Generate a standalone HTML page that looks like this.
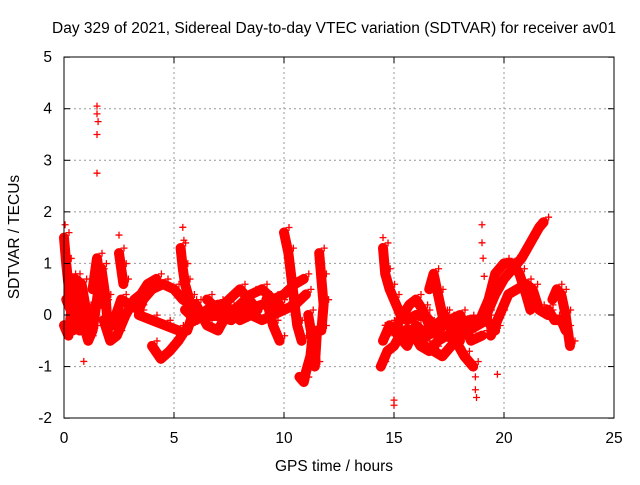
<!DOCTYPE html>
<html><head><meta charset="utf-8"><style>
body{margin:0;background:#fff}
svg text{font-family:"Liberation Sans",sans-serif;font-size:15.5px;fill:#000}
</style></head><body>
<svg id="chart" width="640" height="480" xmlns="http://www.w3.org/2000/svg">
<rect width="640" height="480" fill="#fff"/>
<text x="334" y="33" text-anchor="middle">Day 329 of 2021, Sidereal Day-to-day VTEC variation (SDTVAR) for receiver av01</text>
<text x="334" y="471" text-anchor="middle">GPS time / hours</text>
<text transform="translate(19,237) rotate(-90)" text-anchor="middle">SDTVAR / TECUs</text>
<g id="grid"></g>
<g id="data"></g>
<rect x="64" y="57" width="550" height="361" fill="none" stroke="#000"/>
<g id="ticks"></g>
</svg>
<script>
const xTicks=[0,5,10,15,20,25];
const yTicks=[-2,-1,0,1,2,3,4,5];
const tracks=[
[[0,1.5],[0.1,1.0],[0.2,0.6],[0.3,0.2],[0.4,-0.3]],
[[0,-0.2],[0.2,-0.4],[0.5,0.7],[0.8,0.6],[1.0,0.1],[1.2,-0.3]],
[[0.3,0.7],[0.6,0.5],[0.9,-0.2],[1.1,-0.5],[1.3,-0.3],[1.5,0.3],[1.7,0.9],[1.9,0.3],[2.0,-0.3]],
[[0.1,0.3],[0.4,0.0],[0.7,-0.3],[1.0,-0.1]],
[[1.3,0.5],[1.5,1.1],[1.6,0.8],[1.8,0.2]],
[[1.8,-0.1],[2.1,-0.5],[2.4,-0.4],[2.8,0.0],[3.2,0.3],[3.5,0.4],[3.8,0.6],[4.2,0.7]],
[[2.2,-0.2],[2.6,0.3],[3.0,0.2],[3.4,0.1],[3.6,0.3],[4.0,0.5],[4.5,0.6],[5.0,0.5],[5.4,0.3],[5.8,0.2]],
[[3.4,0.0],[4.0,-0.1],[4.6,-0.2],[5.2,-0.3]],
[[4.0,-0.6],[4.4,-0.85],[4.8,-0.7],[5.2,-0.5],[5.5,-0.3]],
[[2.5,1.2],[2.6,0.9],[2.7,0.6]],
[[5.3,1.3],[5.4,0.9],[5.5,0.6],[5.7,0.3]],
[[5.5,0.1],[6,-0.1],[6.5,0.1],[7,0.2],[7.5,0.0],[8,0.2],[8.5,0.4],[9,0.5],[9.5,0.3],[10,0.4],[10.5,0.6],[10.9,0.7]],
[[5.6,-0.3],[6,0.2],[6.5,-0.2],[7,-0.3],[7.5,0.1],[8,-0.1],[8.5,0.0],[9,-0.1],[9.5,0.0],[10,0.1],[10.5,0.2],[11,0.4]],
[[6.5,0.3],[7,0.1],[7.5,0.3],[8,0.5],[8.4,0.3],[8.8,0.1]],
[[6.0,0.0],[6.8,0.0],[7.6,-0.1],[8.2,0.1],[9.0,0.2],[9.8,0.2]],
[[9.2,0.3],[9.5,-0.2],[9.8,-0.5]],
[[10.0,1.6],[10.2,1.2],[10.4,0.5],[10.6,-0.2],[10.8,-0.5]],
[[10.7,-1.2],[10.9,-1.3],[11.0,-1.1],[11.2,-0.8],[11.3,-0.4]],
[[11.1,0.0],[11.3,-0.5],[11.4,-1.0],[11.5,-0.3]],
[[11.6,1.2],[11.7,0.7],[11.8,0.2],[11.7,-0.3]],
[[14.5,1.3],[14.6,0.8],[14.8,0.5],[15.0,0.3],[15.3,0.0],[15.6,-0.1],[16,0.0],[16.4,0.0],[16.8,-0.2],[17.2,-0.1],[17.6,-0.2],[18,-0.2],[18.4,-0.1],[18.8,-0.1],[19.2,0.0],[19.6,0.4],[20,0.7],[20.4,0.9],[20.8,1.1],[21.2,1.4],[21.6,1.7],[21.8,1.8]],
[[14.4,-1.0],[14.7,-0.7],[15.0,-0.6],[15.4,-0.3],[15.8,-0.3],[16.2,-0.6],[16.6,-0.7],[17.0,-0.5],[17.4,-0.4],[17.8,-0.5],[18.2,-0.8],[18.6,-1.0]],
[[15.0,-0.3],[15.4,0.0],[15.7,0.2],[16.0,0.3],[16.3,0.1],[16.6,-0.2],[17.0,-0.2],[17.3,0.0],[17.6,-0.3],[18.0,-0.4],[18.4,-0.3],[18.8,-0.2],[19.2,-0.1],[19.6,-0.3]],
[[14.5,-0.5],[14.8,-0.2],[15.2,-0.4],[15.6,-0.6],[16.0,-0.2],[16.5,-0.4],[17.0,-0.3],[17.5,-0.1],[18.0,0.0],[18.5,-0.5],[19.0,-0.4]],
[[16.6,0.5],[16.8,0.8],[17.0,0.4],[17.2,0.0]],
[[15.5,-0.5],[16.0,-0.4],[16.4,-0.6],[16.8,-0.7],[17.2,-0.8],[17.6,-0.6],[18.0,-0.5]],
[[19.0,0.0],[19.3,0.3],[19.6,0.8],[20.0,1.0],[20.4,1.0],[20.7,0.8],[21.0,0.4],[21.2,0.1]],
[[19.4,-0.4],[19.8,0.0],[20.2,0.4],[20.6,0.5],[21.0,0.6],[21.3,0.5],[21.6,0.1],[22.0,0.0]],
[[22.2,0.3],[22.4,0.5],[22.6,0.4],[22.8,0.0],[23.0,-0.6]],
[[22.0,0.1],[22.3,-0.1],[22.6,-0.1],[22.8,-0.3]]
];
const outlierX=[1.5,1.5,1.55,1.5,1.5,0.05,2.5,5.4,5.45,0.9,14.5,19.0,19.0,19.05,19.1,18.7,18.7,18.75,15.0,15.0,19.7,14.6];
const outlierY=[4.05,3.9,3.75,3.5,2.75,1.75,1.55,1.7,1.45,-0.9,1.5,1.75,1.4,1.1,0.75,-1.2,-1.45,-1.6,-1.65,-1.75,-1.15,-0.2];

const NS='http://www.w3.org/2000/svg';
const X=h=>64+h*22, Y=v=>315-v*51.57;
function mk(t,a,p){const e=document.createElementNS(NS,t);for(const k in a)e.setAttribute(k,a[k]);p.appendChild(e);return e;}
const grid=document.getElementById('grid'),ticks=document.getElementById('ticks'),data=document.getElementById('data');
xTicks.forEach(t=>{
  if(t>0&&t<25){const l=mk('line',{x1:X(t),x2:X(t),y1:57,y2:418,stroke:'#999','stroke-dasharray':'2,3'},grid);
  
  }
  mk('line',{x1:X(t),x2:X(t),y1:418,y2:412,stroke:'#000'},ticks);
  mk('line',{x1:X(t),x2:X(t),y1:57,y2:63,stroke:'#000'},ticks);
  const tx=mk('text',{x:X(t),y:443,'text-anchor':'middle'},ticks);tx.textContent=t;
  
  
});
yTicks.forEach(t=>{
  if(t>-2&&t<5){const l=mk('line',{x1:64,x2:614,y1:Y(t),y2:Y(t),stroke:'#999','stroke-dasharray':'2,3'},grid);
  
  }
  mk('line',{x1:64,x2:70,y1:Y(t),y2:Y(t),stroke:'#000'},ticks);
  mk('line',{x1:608,x2:614,y1:Y(t),y2:Y(t),stroke:'#000'},ticks);
  const tx=mk('text',{x:52,y:Y(t)+5,'text-anchor':'end'},ticks);tx.textContent=t;
  
  
});
function plus(x,y,name){
  const p=mk('path',{d:`M${x-3.5} ${y}h7M${x} ${y-3.5}v7`,stroke:'#f00','stroke-width':1.3,fill:'none'},data);
  
  
}
tracks.forEach(tr=>{
  const pl=mk('polyline',{points:tr.map(p=>X(p[0])+','+Y(p[1])).join(' '),stroke:'#f00','stroke-width':10,fill:'none','stroke-linejoin':'round','stroke-linecap':'round'},data);
  
  
  tr.forEach(p=>plus(X(p[0])+5,Y(p[1])-5,'data-point'));
});
outlierX.forEach((h,i)=>plus(X(h),Y(outlierY[i]),'outlier-point'));
</script>
</body></html>
